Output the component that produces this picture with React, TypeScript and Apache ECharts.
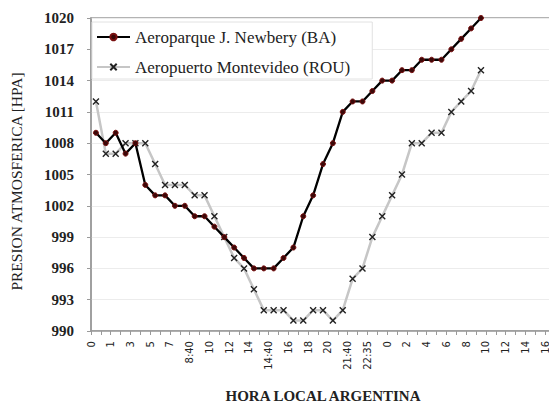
import React, { useEffect, useRef } from "react";
import * as echarts from "echarts";

// Hourly pressure readings (hPa), one per reading slot
const aeroparqueBA = [
  1009, 1008, 1009, 1007, 1008, 1004, 1003, 1003, 1002, 1002,
  1001, 1001, 1000, 999, 998, 997, 996, 996, 996, 997,
  998, 1001, 1003, 1006, 1008, 1011, 1012, 1012, 1013, 1014,
  1014, 1015, 1015, 1016, 1016, 1016, 1017, 1018, 1019, 1020,
];
const montevideoROU = [
  1012, 1007, 1007, 1008, 1008, 1008, 1006, 1004, 1004, 1004,
  1003, 1003, 1001, 999, 997, 996, 994, 992, 992, 992,
  991, 991, 992, 992, 991, 992, 995, 996, 999, 1001,
  1003, 1005, 1008, 1008, 1009, 1009, 1011, 1012, 1013, 1015,
];

// Labels printed under every other tick of the time axis
const tickLabels = [
  "0", "1", "3", "5", "7", "8:40", "10", "12", "14", "14:40", "16", "18",
  "20", "21:40", "22:35", "0", "2", "4", "6", "8", "10", "12", "14", "16",
];

const seriesNames = ["Aeroparque J. Newbery (BA)", "Aeropuerto Montevideo (ROU)"];
const slotCount = 47;

const SERIF = "'Liberation Serif', 'Times New Roman', serif";
const SANS = "'DejaVu Sans', Verdana, sans-serif";

export default function App() {
  const ref = useRef<HTMLDivElement>(null);

  useEffect(() => {
    if (!ref.current) return;
    const chart = echarts.init(ref.current, null, { renderer: "svg" });

    // one category per reading (points sit inside the bands)
    const slots = Array.from({ length: slotCount }, (_, i) => String(i));
    // band boundaries carry the ticks and the printed labels
    const boundaries = Array.from({ length: slotCount + 1 }, (_, j) =>
      j % 2 === 0 && tickLabels[j / 2] !== undefined ? tickLabels[j / 2] : ""
    );

    const axisGrey = "#9a9a9a";

    chart.setOption({
      animation: false,
      backgroundColor: "#ffffff",
      grid: {
        left: 91,
        top: 18,
        right: -6,
        bottom: 71,
        containLabel: false,
        outerBoundsMode: "none",
        show: true,
        borderColor: axisGrey,
        borderWidth: 1.5,
        backgroundColor: "transparent",
      },
      legend: {
        orient: "vertical",
        left: 92,
        top: 22,
        padding: [6, 22, 3, 4],
        itemGap: 12,
        itemWidth: 33,
        itemHeight: 8,
        backgroundColor: "#ffffff",
        borderColor: "#e2e2e2",
        borderWidth: 1,
        textStyle: {
          fontFamily: SERIF,
          fontSize: 17,
          color: "#222",
          lineHeight: 18,
        },
        data: seriesNames,
      },
      xAxis: [
        {
          type: "category",
          data: slots,
          boundaryGap: true,
          show: false,
        },
        {
          type: "category",
          data: boundaries,
          boundaryGap: false,
          position: "bottom",
          axisLine: { show: true, lineStyle: { color: axisGrey, width: 1.5 } },
          axisTick: {
            show: true,
            interval: 0,
            length: 4,
            lineStyle: { color: axisGrey },
          },
          axisLabel: {
            interval: 0,
            rotate: 90,
            margin: 10,
            fontFamily: SANS,
            fontSize: 10,
            color: "#222",
          },
          splitLine: { show: false },
          name: "HORA LOCAL ARGENTINA",
          nameLocation: "middle",
          nameGap: 57,
          nameTextStyle: {
            fontFamily: SERIF,
            fontSize: 15,
            fontWeight: "bold",
            color: "#222",
          },
        },
      ],
      yAxis: {
        type: "value",
        min: 990,
        max: 1020,
        interval: 3,
        axisLine: { show: true, lineStyle: { color: axisGrey, width: 1.5 } },
        axisTick: { show: true, length: 4, lineStyle: { color: axisGrey } },
        axisLabel: {
          margin: 17,
          fontFamily: SERIF,
          fontSize: 15,
          fontWeight: "bold",
          color: "#222",
          formatter: (v: number) => String(v),
        },
        splitLine: { show: true, lineStyle: { color: "#ececec", width: 1 } },
        name: "PRESION ATMOSFERICA [HPA]",
        nameLocation: "middle",
        nameGap: 67,
        nameTextStyle: {
          fontFamily: SERIF,
          fontSize: 15.5,
          color: "#222",
          padding: [0, 14, 0, 0],
        },
      },
      series: [
        {
          name: seriesNames[0],
          type: "line",
          xAxisIndex: 0,
          data: aeroparqueBA,
          symbol: "circle",
          symbolSize: 5,
          showAllSymbol: true,
          lineStyle: { color: "#000000", width: 2.3 },
          itemStyle: { color: "#3b0808", borderColor: "#7a1010", borderWidth: 1 },
          z: 3,
        },
        {
          name: seriesNames[1],
          type: "line",
          xAxisIndex: 0,
          data: montevideoROU,
          symbol: "path://M0,0L10,10M10,0L0,10",
          symbolSize: 6,
          showAllSymbol: true,
          lineStyle: { color: "#c6c6c6", width: 2.5 },
          itemStyle: { color: "#222222", borderColor: "#222222", borderWidth: 1.4 },
          z: 2,
        },
      ],
    });

    return () => chart.dispose();
  }, []);

  return (
    <div
      ref={ref}
      style={{
        position: "absolute",
        left: 0,
        top: 0,
        width: 549,
        height: 402,
        background: "#ffffff",
      }}
    />
  );
}
